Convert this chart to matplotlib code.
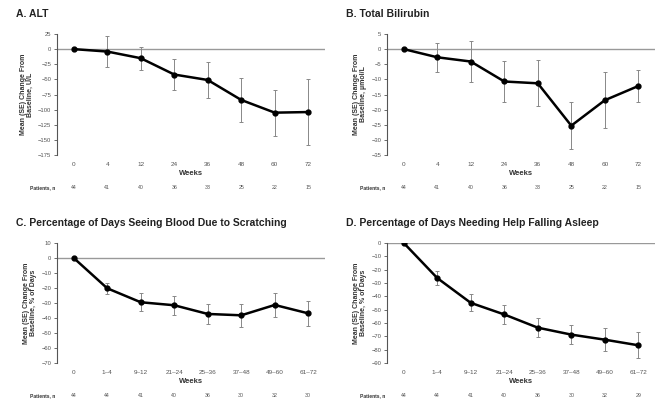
import matplotlib
matplotlib.use("Agg")
import matplotlib.pyplot as plt
import matplotlib.transforms as mtransforms

plt.rcParams['font.family'] = ['Liberation Sans', 'DejaVu Sans']

# panel data
weeks_ab = ['0', '4', '12', '24', '36', '48', '60', '72']
weeks_cd = ['0', '1\u20134', '9\u201312', '21\u201324', '25\u201336', '37\u201348', '49\u201360', '61\u201372']

alt_mean = [0, -4, -15, -42, -51, -84, -105, -104]
alt_se = [0, 25, 19, 25, 30, 36, 38, 54]
alt_n = [44, 41, 40, 36, 33, 25, 22, 15]

bili_mean = [0, -2.7, -4.1, -10.7, -11.3, -25.3, -16.9, -12.2]
bili_se = [0, 4.7, 6.7, 6.7, 7.6, 7.7, 9.2, 5.2]
bili_n = [44, 41, 40, 36, 33, 25, 22, 15]

blood_mean = [0, -20.2, -29.5, -31.5, -37.3, -38.2, -31.3, -36.9]
blood_se = [0, 3.7, 6.0, 6.2, 6.5, 7.5, 7.8, 8.3]
blood_n = [44, 44, 41, 40, 36, 30, 32, 30]

sleep_mean = [0, -26.3, -44.9, -53.6, -63.5, -68.7, -72.5, -76.7]
sleep_se = [0, 5.0, 6.3, 7.2, 6.9, 7.4, 8.5, 9.6]
sleep_n = [44, 44, 41, 40, 36, 30, 32, 29]

panels = [
    ('A. ALT', weeks_ab, alt_mean, alt_se, alt_n, 'Mean (SE) Change From\nBaseline, U/L', (-175, 25), 25),
    ('B. Total Bilirubin', weeks_ab, bili_mean, bili_se, bili_n, 'Mean (SE) Change From\nBaseline, \u00b5mol/L', (-35, 5), 5),
    ('C. Percentage of Days Seeing Blood Due to Scratching', weeks_cd, blood_mean, blood_se, blood_n,
     'Mean (SE) Change From\nBaseline, % of Days', (-70, 10), 10),
    ('D. Percentage of Days Needing Help Falling Asleep', weeks_cd, sleep_mean, sleep_se, sleep_n,
     'Mean (SE) Change From\nBaseline, % of Days', (-90, 0), 10),
]

# axes boxes in figure fraction (left, bottom, width, height) and title anchor
boxes = [
    (0.0857, 0.6115, 0.403, 0.3033),
    (0.582, 0.6115, 0.403, 0.3033),
    (0.0857, 0.0902, 0.403, 0.3008),
    (0.582, 0.0902, 0.403, 0.3008),
]
title_pos = [(0.024, 0.965), (0.520, 0.965), (0.024, 0.441), (0.520, 0.441)]

fig = plt.figure(figsize=(6.65, 3.99), dpi=100)

for (title, labels, mean, se, n, ylab, ylim, step), box, tp in zip(panels, boxes, title_pos):
    ax = fig.add_axes(box)
    x = list(range(len(labels)))
    ax.axhline(0, color='#999999', lw=1.0, zorder=1)
    ax.errorbar(x, mean, yerr=se, fmt='none', ecolor='#888888', elinewidth=0.7,
                capsize=1.5, capthick=0.7, zorder=2)
    ax.plot(x, mean, color='black', lw=1.8, marker='o', markersize=3.5, zorder=3)

    ax.set_xlim(-0.5, 7.5)
    ax.set_ylim(*ylim)
    ax.set_yticks(list(range(ylim[0], ylim[1] + 1, step)))
    ax.set_xticks(x)
    ax.set_xticklabels(labels)
    for s in ['top', 'right', 'bottom']:
        ax.spines[s].set_visible(False)
    ax.spines['left'].set_color('#555555')
    ax.spines['left'].set_linewidth(0.8)
    ax.tick_params(axis='y', labelsize=4.2, labelcolor='#555555', length=2, width=0.6, color='#555555', pad=2)
    ax.tick_params(axis='x', labelsize=4.6, labelcolor='#555555', length=0, pad=5)
    ax.set_xlabel('Weeks', fontsize=5.5, fontweight='bold', color='#333333', labelpad=2.5)
    ax.set_ylabel(ylab, fontsize=5, fontweight='bold', color='#333333', labelpad=3, linespacing=1.0)
    fig.text(tp[0], tp[1], title, fontsize=7.5, fontweight='bold', color='#222222',
             ha='left', va='center')

    trans = mtransforms.blended_transform_factory(ax.transData, ax.transAxes)
    ax.text(-0.55, -0.27, 'Patients, n', transform=trans, fontsize=3.6, fontweight='bold',
            color='#333333', ha='right', va='center')
    for xi, ni in zip(x, n):
        ax.text(xi, -0.27, str(ni), transform=trans, fontsize=3.8, color='#555555',
                ha='center', va='center')

fig.savefig('out.png', dpi=100)
